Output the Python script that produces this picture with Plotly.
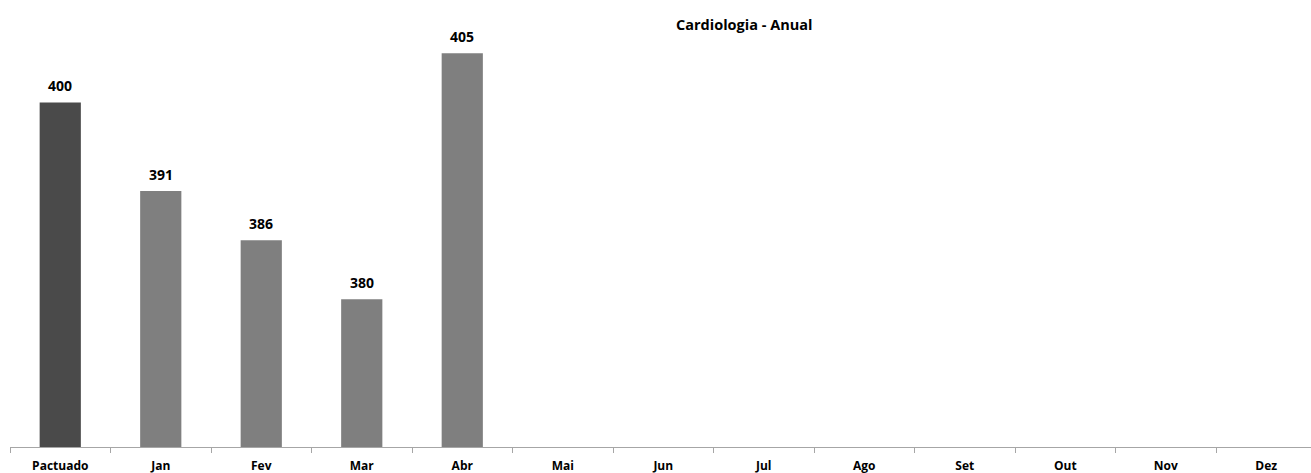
import plotly.graph_objects as go

# categories and values
categories = ["Pactuado", "Jan", "Fev", "Mar", "Abr", "Mai", "Jun",
              "Jul", "Ago", "Set", "Out", "Nov", "Dez"]
values = [400, 391, 386, 380, 405, None, None, None, None, None, None, None, None]
bar_colors = ["#4a4a4a"] + ["#7f7f7f"] * 12

fig = go.Figure()

fig.add_trace(go.Bar(
    x=categories,
    y=values,
    marker=dict(color=bar_colors, line=dict(width=0)),
    width=0.41,
    hoverinfo="x+y",
))

# data labels above the bars
for cat, val in zip(categories, values):
    if val is None:
        continue
    fig.add_annotation(
        x=cat, y=val,
        text=f"<b>{val}</b>",
        showarrow=False,
        yanchor="bottom",
        yshift=5,
        font=dict(family="Open Sans", size=14, color="#000000"),
    )

fig.add_annotation(
    text="<b>Cardiologia - Anual</b>",
    xref="paper", yref="paper",
    x=0.5642, y=1.0,
    yanchor="middle", yshift=-20,
    showarrow=False,
    font=dict(family="Open Sans", size=14.5, color="#000000"),
)

fig.update_layout(
    width=1311, height=473,
    margin=dict(l=10, r=0, t=4, b=26),
    paper_bgcolor="white",
    plot_bgcolor="white",
    showlegend=False,
)

fig.update_xaxes(
    type="category",
    range=[-0.5, 12.445],
    showline=True, linecolor="#a6a6a6", linewidth=1,
    ticks="outside", ticklen=5, tickcolor="#a6a6a6",
    tickson="boundaries",
    ticklabelstandoff=8,
    tickfont=dict(family="Open Sans", size=12, color="#000000", weight="bold"),
    showgrid=False, zeroline=False,
)

fig.update_yaxes(
    range=[365, 410],
    visible=False,
    showgrid=False, zeroline=False,
)

# drop the page's default body margin so the chart sits at the window corner
fig.write_html("out.html", config={"displayModeBar": False},
               post_script="document.body.style.margin='0';")
